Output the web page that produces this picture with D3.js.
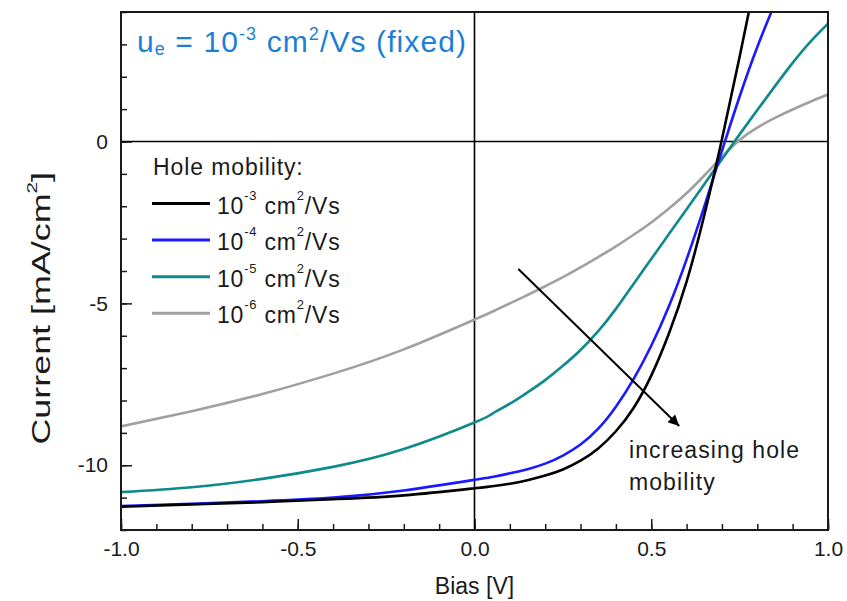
<!DOCTYPE html>
<html>
<head>
<meta charset="utf-8">
<script src="https://cdn.jsdelivr.net/npm/d3@7"></script>
<style>
  html, body { margin: 0; padding: 0; background: #fff; }
  svg { display: block; font-family: "Liberation Sans", Arial, Helvetica, sans-serif; }
</style>
</head>
<body>
<svg id="chart" width="847" height="601"></svg>
<script>
// Bias sweep (V) shared by all simulated J-V curves
const bias = [-1.0, -0.8, -0.6, -0.4, -0.2, 0.0, 0.05, 0.1, 0.15, 0.2, 0.25, 0.3, 0.35, 0.4, 0.45, 0.5, 0.55, 0.6, 0.65, 0.7, 0.75, 0.8, 0.85, 0.9, 0.95, 1.0];

// Current density (mA/cm^2) for each hole mobility
const currentMu3 = [-11.28, -11.21, -11.14, -11.05, -10.93, -10.71, -10.65, -10.57, -10.46, -10.32, -10.13, -9.86, -9.48, -8.95, -8.23, -7.23, -5.93, -4.33, -2.28, 0.07, 2.62, 5.27, null, null, null, null];
const currentMu4 = [-11.26, -11.19, -11.11, -11.00, -10.78, -10.45, -10.36, -10.25, -10.12, -9.95, -9.70, -9.36, -8.87, -8.19, -7.34, -6.31, -5.09, -3.64, -2.01, -0.29, 1.39, 2.92, 4.27, null, null, null];
const currentMu5 = [-10.83, -10.68, -10.42, -10.05, -9.50, -8.68, -8.41, -8.10, -7.75, -7.37, -6.93, -6.44, -5.86, -5.17, -4.40, -3.63, -2.86, -2.09, -1.32, -0.55, 0.22, 0.97, 1.71, 2.43, 3.08, 3.64];
const currentMu6 = [-8.80, -8.33, -7.80, -7.17, -6.42, -5.50, -5.26, -5.00, -4.74, -4.47, -4.19, -3.89, -3.57, -3.24, -2.88, -2.50, -2.07, -1.60, -1.05, -0.475, 0.05, 0.43, 0.73, 0.99, 1.23, 1.45];

// Legend entries
const seriesExponents = ["-3", "-4", "-5", "-6"];
const seriesColors = ["#000000", "#1a1aff", "#0e8a8a", "#a0a0a0"];
const seriesValues = [currentMu3, currentMu4, currentMu5, currentMu6];

// Axis ticks
const xMajorTicks = [-1.0, -0.5, 0.0, 0.5, 1.0];
const xMinorTicks = d3.range(-10, 11).map(d => d / 10);
const yMajorTicks = [0, -5, -10];
const yMinorTicks = d3.range(-12, 5);

const svg = d3.select("#chart");
const plot = { left: 121, right: 828, top: 12, bottom: 530 };

const x = d3.scaleLinear().domain([-1, 1]).range([plot.left, plot.right]);
const y = d3.scaleLinear().domain([-12, 4]).range([plot.bottom, plot.top]);

const defs = svg.append("defs");
defs.append("clipPath").attr("id", "plotClip")
  .append("rect")
  .attr("x", plot.left).attr("y", plot.top)
  .attr("width", plot.right - plot.left).attr("height", plot.bottom - plot.top);

// Minor ticks (inward)
svg.append("g")
  .attr("transform", `translate(0,${plot.bottom})`)
  .call(d3.axisBottom(x).tickValues(xMinorTicks).tickSize(-6).tickFormat(""))
  .call(g => g.select(".domain").remove())
  .call(g => g.selectAll("line").attr("stroke", "#1a1a1a").attr("stroke-width", 1.5));
svg.append("g")
  .attr("transform", `translate(${plot.left},0)`)
  .call(d3.axisLeft(y).tickValues(yMinorTicks).tickSize(-6).tickFormat(""))
  .call(g => g.select(".domain").remove())
  .call(g => g.selectAll("line").attr("stroke", "#1a1a1a").attr("stroke-width", 1.5));

// Major ticks with labels
svg.append("g")
  .attr("transform", `translate(0,${plot.bottom})`)
  .call(d3.axisBottom(x).tickValues(xMajorTicks).tickSize(-11).tickPadding(11).tickFormat(d => d3.format(".1f")(d).replace("−", "-")))
  .call(g => g.select(".domain").remove())
  .call(g => g.selectAll("line").attr("stroke", "#1a1a1a").attr("stroke-width", 1.5))
  .call(g => g.selectAll("text").attr("font-size", 21).attr("fill", "#1a1a1a")
    .attr("font-family", "'Liberation Sans', Arial, sans-serif"));
svg.append("g")
  .attr("transform", `translate(${plot.left},0)`)
  .call(d3.axisLeft(y).tickValues(yMajorTicks).tickSize(-11).tickPadding(13).tickFormat(d => String(d)))
  .call(g => g.select(".domain").remove())
  .call(g => g.selectAll("line").attr("stroke", "#1a1a1a").attr("stroke-width", 1.5))
  .call(g => g.selectAll("text").attr("font-size", 21).attr("fill", "#1a1a1a")
    .attr("font-family", "'Liberation Sans', Arial, sans-serif"));

// Zero lines
svg.append("line")
  .attr("x1", x(0)).attr("x2", x(0)).attr("y1", plot.top).attr("y2", plot.bottom)
  .attr("stroke", "#000").attr("stroke-width", 1.6);
svg.append("line")
  .attr("x1", plot.left).attr("x2", plot.right).attr("y1", y(0)).attr("y2", y(0))
  .attr("stroke", "#000").attr("stroke-width", 1.6);

// Curves
const line = d3.line()
  .defined(d => d[1] !== null)
  .x(d => x(d[0]))
  .y(d => y(d[1]))
  .curve(d3.curveNatural);

const curves = svg.append("g").attr("clip-path", "url(#plotClip)");
// lowest mobility first so the black curve sits on top
[3, 2, 1, 0].forEach(i => {
  curves.append("path")
    .datum(bias.map((b, k) => [b, seriesValues[i][k]]))
    .attr("fill", "none")
    .attr("stroke", seriesColors[i])
    .attr("stroke-width", 2.6)
    .attr("stroke-linejoin", "round")
    .attr("d", line);
});

// Frame
svg.append("rect")
  .attr("x", plot.left).attr("y", plot.top)
  .attr("width", plot.right - plot.left).attr("height", plot.bottom - plot.top)
  .attr("fill", "none").attr("stroke", "#1a1a1a").attr("stroke-width", 2);

// Axis titles
svg.append("text")
  .attr("x", x(0)).attr("y", 594)
  .attr("text-anchor", "middle").attr("font-size", 23).attr("fill", "#1a1a1a")
  .text("Bias [V]");

const yTitle = svg.append("text")
  .attr("transform", `translate(50,${y(-5.15)}) rotate(-90) scale(1.38,1)`)
  .attr("text-anchor", "middle").attr("font-size", 26).attr("fill", "#1a1a1a");
yTitle.append("tspan").text("Current [mA/cm");
yTitle.append("tspan").attr("font-size", 15).attr("dy", -13).text("2");
yTitle.append("tspan").attr("dy", 13).text("]");

// Fixed electron mobility note
const note = svg.append("text")
  .attr("x", 137).attr("y", 52)
  .attr("font-size", 30).attr("fill", "#1c7fd6").attr("letter-spacing", 1.1);
note.append("tspan").text("u");
note.append("tspan").attr("font-size", 18).attr("dy", 3).text("e");
note.append("tspan").attr("dy", -3).text(" = 10");
note.append("tspan").attr("font-size", 18).attr("dy", -12).text("-3");
note.append("tspan").attr("dy", 12).text(" cm");
note.append("tspan").attr("font-size", 18).attr("dy", -12).text("2");
note.append("tspan").attr("dy", 12).text("/Vs (fixed)");

// Legend
const legend = svg.append("g").attr("font-size", 23).attr("fill", "#1a1a1a");
legend.append("text").attr("x", 153).attr("y", 175).attr("letter-spacing", 0.9).text("Hole mobility:");
seriesExponents.forEach((e, i) => {
  const ly = 203.5 + i * 36.6;
  legend.append("line")
    .attr("x1", 152).attr("x2", 210).attr("y1", ly).attr("y2", ly)
    .attr("stroke", seriesColors[i]).attr("stroke-width", 3);
  const t = legend.append("text").attr("x", 217).attr("y", ly + 10).attr("letter-spacing", 0.8);
  t.append("tspan").text("10");
  t.append("tspan").attr("font-size", 13).attr("dy", -14).text(e);
  t.append("tspan").attr("dy", 14).text(" cm");
  t.append("tspan").attr("font-size", 13).attr("dy", -14).text("2");
  t.append("tspan").attr("dy", 14).text("/Vs");
});

// Trend arrow
defs.append("marker")
  .attr("id", "arrowHead")
  .attr("viewBox", "0 0 10 10")
  .attr("refX", 10).attr("refY", 5)
  .attr("markerWidth", 7.5).attr("markerHeight", 5.5)
  .attr("markerUnits", "strokeWidth")
  .attr("orient", "auto")
  .append("path").attr("d", "M0,0 L10,5 L0,10 Z").attr("fill", "#000");
svg.append("line")
  .attr("x1", x(0.124)).attr("y1", y(-3.94))
  .attr("x2", x(0.579)).attr("y2", y(-8.79))
  .attr("stroke", "#000").attr("stroke-width", 2)
  .attr("marker-end", "url(#arrowHead)");

const ann = svg.append("g").attr("font-size", 23).attr("fill", "#1a1a1a").attr("letter-spacing", 1.1);
ann.append("text").attr("x", x(0.437)).attr("y", 458).text("increasing hole");
ann.append("text").attr("x", x(0.437)).attr("y", 490).text("mobility");
</script>
</body>
</html>
